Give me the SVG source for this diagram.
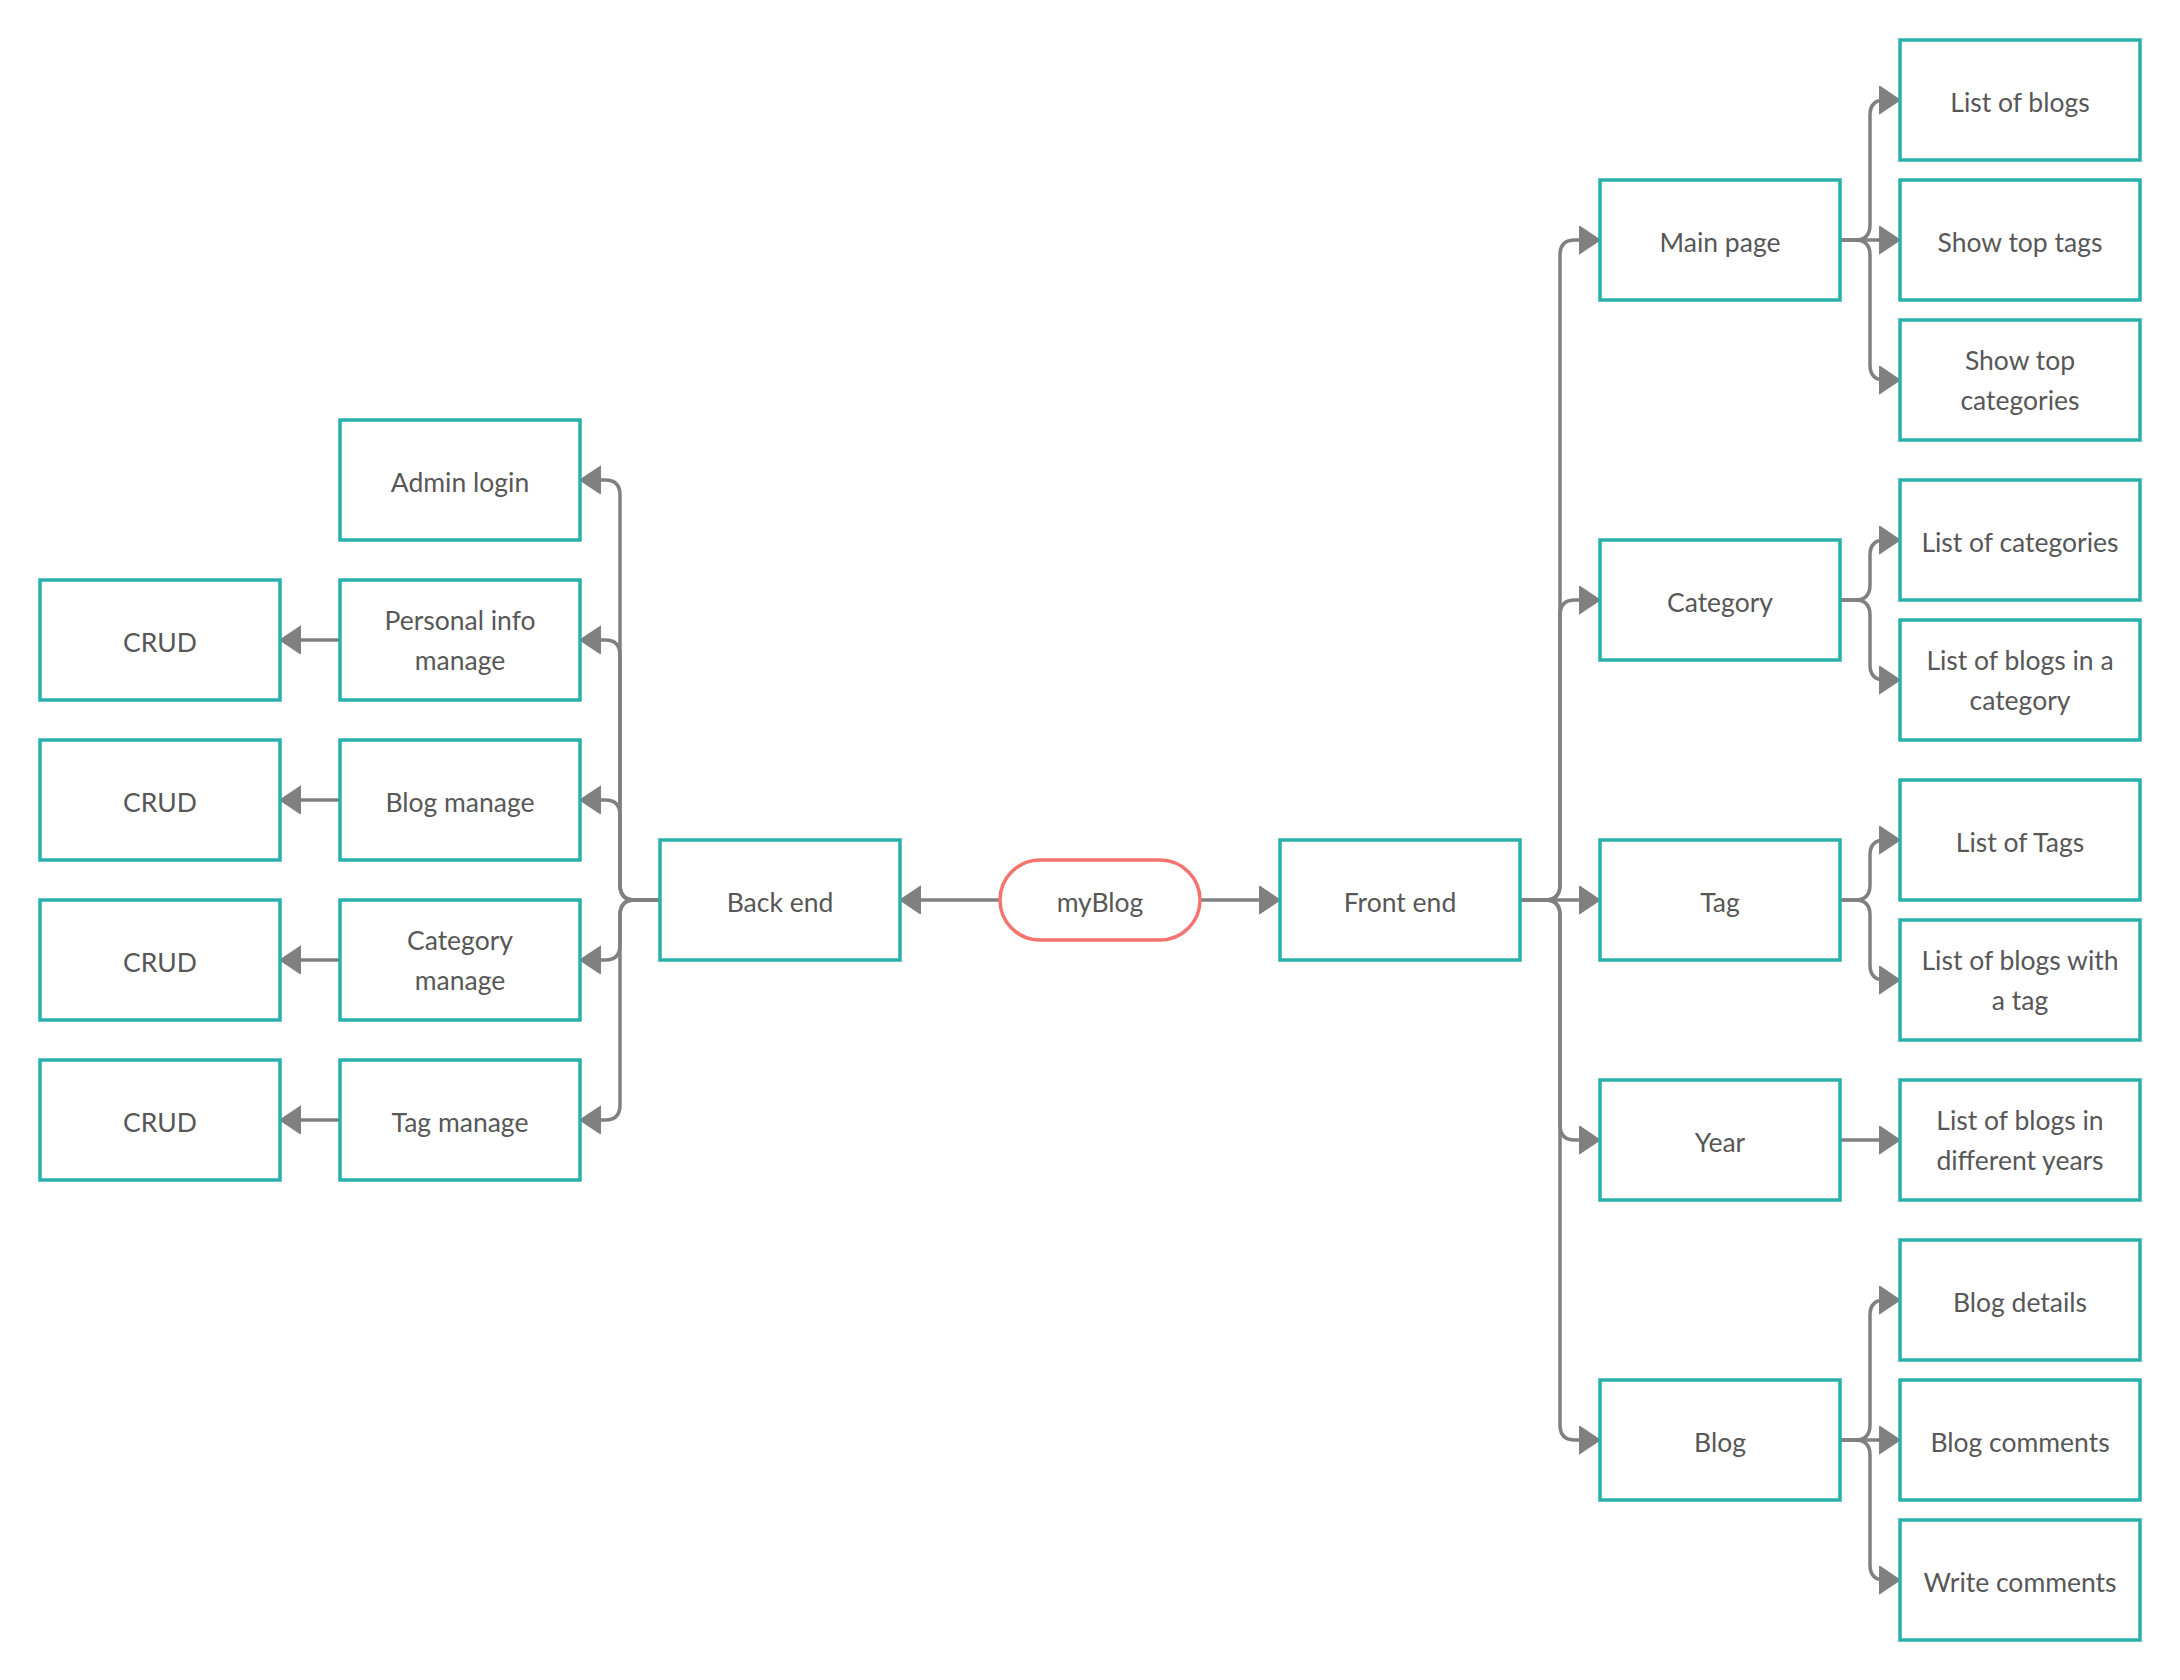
<svg xmlns="http://www.w3.org/2000/svg" width="2180" height="1680" viewBox="0 0 2180 1680">
  <style>
    .box { fill: #ffffff; stroke: #27b0ac; stroke-width: 3.5; }
    .root { fill: #ffffff; stroke: #f4736f; stroke-width: 3.5; }
    .lbl { font-family: Lato, "Open Sans", "Liberation Sans", sans-serif; font-size: 26.5px; fill: #575757; text-anchor: middle; }
    .conn { fill: none; stroke: #808080; stroke-width: 3.5; marker-end: url(#arrow); }
  </style>
  <defs>
    <marker id="arrow" markerUnits="userSpaceOnUse" markerWidth="24" markerHeight="30" refX="15" refY="14" orient="auto" viewBox="0 0 24 30">
      <path d="M0,0 L21,14 L0,28 Z" fill="#808080" stroke="#808080" stroke-width="1.5" stroke-linejoin="round"/>
    </marker>
  </defs>
  <rect width="2180" height="1680" fill="#ffffff"/>

  <!-- connectors -->
  <g id="connectors">
    <!-- myBlog to the two halves -->
    <path class="conn" d="M1000,900 H906"/>
    <path class="conn" d="M1200,900 H1274"/>
    <!-- Back end bus -->
    <path class="conn" d="M660,900 H635 Q620,900 620,885 V495 Q620,480 605,480 H586"/>
    <path class="conn" d="M660,900 H635 Q620,900 620,885 V655 Q620,640 605,640 H586"/>
    <path class="conn" d="M660,900 H635 Q620,900 620,885 V815 Q620,800 605,800 H586"/>
    <path class="conn" d="M660,900 H635 Q620,900 620,915 V945 Q620,960 605,960 H586"/>
    <path class="conn" d="M660,900 H635 Q620,900 620,915 V1105 Q620,1120 605,1120 H586"/>
    <!-- manage to CRUD -->
    <path class="conn" d="M340,640 H286"/>
    <path class="conn" d="M340,800 H286"/>
    <path class="conn" d="M340,960 H286"/>
    <path class="conn" d="M340,1120 H286"/>
    <!-- Front end bus -->
    <path class="conn" d="M1520,900 H1545 Q1560,900 1560,885 V255 Q1560,240 1575,240 H1594"/>
    <path class="conn" d="M1520,900 H1545 Q1560,900 1560,885 V615 Q1560,600 1575,600 H1594"/>
    <path class="conn" d="M1520,900 H1594"/>
    <path class="conn" d="M1520,900 H1545 Q1560,900 1560,915 V1125 Q1560,1140 1575,1140 H1594"/>
    <path class="conn" d="M1520,900 H1545 Q1560,900 1560,915 V1425 Q1560,1440 1575,1440 H1594"/>
    <!-- Main page -->
    <path class="conn" d="M1840,240 H1855 Q1870,240 1870,225 V115 Q1870,100 1885,100 H1894"/>
    <path class="conn" d="M1840,240 H1894"/>
    <path class="conn" d="M1840,240 H1855 Q1870,240 1870,255 V365 Q1870,380 1885,380 H1894"/>
    <!-- Category -->
    <path class="conn" d="M1840,600 H1855 Q1870,600 1870,585 V555 Q1870,540 1885,540 H1894"/>
    <path class="conn" d="M1840,600 H1855 Q1870,600 1870,615 V665 Q1870,680 1885,680 H1894"/>
    <!-- Tag -->
    <path class="conn" d="M1840,900 H1855 Q1870,900 1870,885 V855 Q1870,840 1885,840 H1894"/>
    <path class="conn" d="M1840,900 H1855 Q1870,900 1870,915 V965 Q1870,980 1885,980 H1894"/>
    <!-- Year -->
    <path class="conn" d="M1840,1140 H1894"/>
    <!-- Blog -->
    <path class="conn" d="M1840,1440 H1855 Q1870,1440 1870,1425 V1315 Q1870,1300 1885,1300 H1894"/>
    <path class="conn" d="M1840,1440 H1894"/>
    <path class="conn" d="M1840,1440 H1855 Q1870,1440 1870,1455 V1565 Q1870,1580 1885,1580 H1894"/>
  </g>

  <!-- centre -->
  <g id="myBlog"><rect class="root" x="1000" y="860" width="200" height="80" rx="40"/><text class="lbl" x="1100" y="912">myBlog</text></g>
  <g id="back-end"><rect class="box" x="660" y="840" width="240" height="120"/><text class="lbl" x="780" y="912">Back end</text></g>
  <g id="front-end"><rect class="box" x="1280" y="840" width="240" height="120"/><text class="lbl" x="1400" y="912">Front end</text></g>

  <!-- back end branch -->
  <g id="admin-login"><rect class="box" x="340" y="420" width="240" height="120"/><text class="lbl" x="460" y="492">Admin login</text></g>
  <g id="personal-info"><rect class="box" x="340" y="580" width="240" height="120"/><text class="lbl" x="460" y="630">Personal info</text><text class="lbl" x="460" y="670">manage</text></g>
  <g id="blog-manage"><rect class="box" x="340" y="740" width="240" height="120"/><text class="lbl" x="460" y="812">Blog manage</text></g>
  <g id="category-manage"><rect class="box" x="340" y="900" width="240" height="120"/><text class="lbl" x="460" y="950">Category</text><text class="lbl" x="460" y="990">manage</text></g>
  <g id="tag-manage"><rect class="box" x="340" y="1060" width="240" height="120"/><text class="lbl" x="460" y="1132">Tag manage</text></g>
  <g id="crud-personal"><rect class="box" x="40" y="580" width="240" height="120"/><text class="lbl" x="160" y="652">CRUD</text></g>
  <g id="crud-blog"><rect class="box" x="40" y="740" width="240" height="120"/><text class="lbl" x="160" y="812">CRUD</text></g>
  <g id="crud-category"><rect class="box" x="40" y="900" width="240" height="120"/><text class="lbl" x="160" y="972">CRUD</text></g>
  <g id="crud-tag"><rect class="box" x="40" y="1060" width="240" height="120"/><text class="lbl" x="160" y="1132">CRUD</text></g>

  <!-- front end branch -->
  <g id="main-page"><rect class="box" x="1600" y="180" width="240" height="120"/><text class="lbl" x="1720" y="252">Main page</text></g>
  <g id="category"><rect class="box" x="1600" y="540" width="240" height="120"/><text class="lbl" x="1720" y="612">Category</text></g>
  <g id="tag"><rect class="box" x="1600" y="840" width="240" height="120"/><text class="lbl" x="1720" y="912">Tag</text></g>
  <g id="year"><rect class="box" x="1600" y="1080" width="240" height="120"/><text class="lbl" x="1720" y="1152">Year</text></g>
  <g id="blog"><rect class="box" x="1600" y="1380" width="240" height="120"/><text class="lbl" x="1720" y="1452">Blog</text></g>

  <g id="list-of-blogs"><rect class="box" x="1900" y="40" width="240" height="120"/><text class="lbl" x="2020" y="112">List of blogs</text></g>
  <g id="show-top-tags"><rect class="box" x="1900" y="180" width="240" height="120"/><text class="lbl" x="2020" y="252">Show top tags</text></g>
  <g id="show-top-categories"><rect class="box" x="1900" y="320" width="240" height="120"/><text class="lbl" x="2020" y="370">Show top</text><text class="lbl" x="2020" y="410">categories</text></g>
  <g id="list-of-categories"><rect class="box" x="1900" y="480" width="240" height="120"/><text class="lbl" x="2020" y="552">List of categories</text></g>
  <g id="blogs-in-category"><rect class="box" x="1900" y="620" width="240" height="120"/><text class="lbl" x="2020" y="670">List of blogs in a</text><text class="lbl" x="2020" y="710">category</text></g>
  <g id="list-of-tags"><rect class="box" x="1900" y="780" width="240" height="120"/><text class="lbl" x="2020" y="852">List of Tags</text></g>
  <g id="blogs-with-tag"><rect class="box" x="1900" y="920" width="240" height="120"/><text class="lbl" x="2020" y="970">List of blogs with</text><text class="lbl" x="2020" y="1010">a tag</text></g>
  <g id="blogs-by-year"><rect class="box" x="1900" y="1080" width="240" height="120"/><text class="lbl" x="2020" y="1130">List of blogs in</text><text class="lbl" x="2020" y="1170">different years</text></g>
  <g id="blog-details"><rect class="box" x="1900" y="1240" width="240" height="120"/><text class="lbl" x="2020" y="1312">Blog details</text></g>
  <g id="blog-comments"><rect class="box" x="1900" y="1380" width="240" height="120"/><text class="lbl" x="2020" y="1452">Blog comments</text></g>
  <g id="write-comments"><rect class="box" x="1900" y="1520" width="240" height="120"/><text class="lbl" x="2020" y="1592">Write comments</text></g>
</svg>
